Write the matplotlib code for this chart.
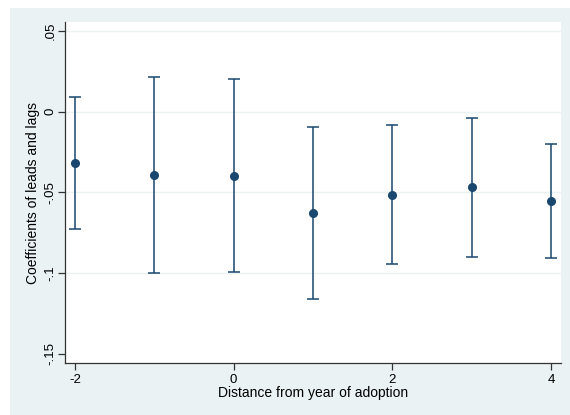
import matplotlib.pyplot as plt
from matplotlib.patches import Rectangle

plt.rcParams['font.family'] = ['Liberation Sans', 'DejaVu Sans']

dist = [-2, -1, 0, 1, 2, 3, 4]
coef = [-0.0318, -0.0390, -0.0395, -0.0624, -0.0514, -0.0469, -0.0554]
ci_hi = [0.0089, 0.0214, 0.0206, -0.0097, -0.0083, -0.0040, -0.0201]
ci_lo = [-0.0726, -0.0998, -0.0990, -0.1160, -0.0944, -0.0901, -0.0907]

yticks = [-0.15, -0.1, -0.05, 0, 0.05]
ylabels = ['-.15', '-.1', '-.05', '0', '.05']
xticks = [-2, 0, 2, 4]

navy = '#1a476f'
bg = '#eaf2f3'

fig = plt.figure(figsize=(5.7, 4.15), dpi=100)
fig.patch.set_facecolor('white')
# graph region (Stata style)
fig.patches.append(Rectangle((10 / 570, 0), 560 / 570, 407 / 415,
                             transform=fig.transFigure, facecolor=bg,
                             edgecolor='none', zorder=-5))

ax = fig.add_axes([65 / 570, (415 - 363) / 415, 496 / 570, 341 / 415])
ax.set_zorder(2)
ax.set_facecolor('white')

err_lo = [c - l for c, l in zip(coef, ci_lo)]
err_hi = [h - c for c, h in zip(coef, ci_hi)]
ax.errorbar(dist, coef, yerr=[err_lo, err_hi], fmt='o', color=navy,
            ecolor=navy, elinewidth=1.1, capsize=4, capthick=1.1,
            markersize=5.5, zorder=3)

ax.set_xlim(-2.126, 4.126)
ax.set_ylim(-0.1556, 0.0556)
ax.set_xticks(xticks)
ax.set_xticklabels([str(t) for t in xticks])
ax.set_yticks(yticks)
ax.set_yticklabels(ylabels, rotation=90, va='center')

for v in [-0.1, -0.05, 0, 0.05]:
    ax.axhline(v, color=bg, linewidth=1.0, zorder=1)

for s in ['top', 'right']:
    ax.spines[s].set_visible(False)
for s in ['left', 'bottom']:
    ax.spines[s].set_color('#333333')
    ax.spines[s].set_linewidth(0.9)

ax.tick_params(axis='both', direction='out', length=5, width=0.9,
               color='#333333', labelsize=9.5, pad=3)
ax.tick_params(axis='y', pad=1)

ax.set_xlabel('Distance from year of adoption', fontsize=10, labelpad=0)
ax.set_ylabel('Coefficients of leads and lags', fontsize=10)
ax.yaxis.set_label_coords(-0.05, 0.5)

fig.savefig('out.png', dpi=100, facecolor=fig.get_facecolor())
